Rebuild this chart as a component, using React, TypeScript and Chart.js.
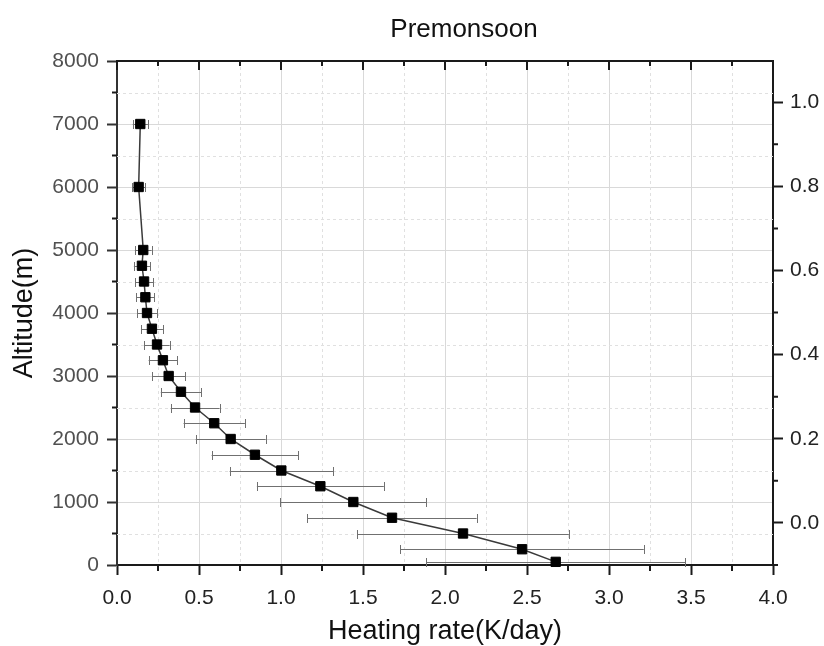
import React, { useEffect, useRef } from "react";
import { Chart, registerables } from "chart.js";

Chart.register(...registerables);

// ---- data ----
const altitudes = [50, 250, 500, 750, 1000, 1250, 1500, 1750, 2000, 2250, 2500, 2750, 3000, 3250, 3500, 3750, 4000, 4250, 4500, 4750, 5000, 6000, 7000];
const heatingRate = [2.675, 2.47, 2.11, 1.677, 1.441, 1.24, 1.002, 0.841, 0.693, 0.593, 0.476, 0.39, 0.315, 0.28, 0.244, 0.213, 0.183, 0.173, 0.165, 0.152, 0.16, 0.132, 0.142];
const heatingErr = [0.79, 0.742, 0.645, 0.516, 0.446, 0.387, 0.315, 0.264, 0.213, 0.187, 0.149, 0.123, 0.1, 0.087, 0.077, 0.067, 0.061, 0.055, 0.055, 0.049, 0.051, 0.04, 0.046];

const chartTitle = "Premonsoon";
const xAxisTitle = "Heating rate(K/day)";
const yAxisTitle = "Altitude(m)";

const xMin = 0;
const xMax = 4;
const xStep = 0.5;
const yMin = 0;
const yMax = 8000;
const yStep = 1000;
const y2Min = -0.1;
const y2Max = 1.098;
const y2Step = 0.2;

const FONT = "'Liberation Sans', Arial, Helvetica, sans-serif";

function midpoints(ticks: { value: number }[]): number[] {
  const out: number[] = [];
  for (let i = 0; i < ticks.length - 1; i++) {
    out.push((ticks[i].value + ticks[i + 1].value) / 2);
  }
  return out;
}

export default function App() {
  const ref = useRef<HTMLCanvasElement>(null);

  useEffect(() => {
    if (!ref.current) return;

    const extras = {
      id: "extras",
      beforeDatasetsDraw(chart: any) {
        const { ctx, chartArea: a, scales } = chart;
        const x = scales.x;
        const y = scales.y;
        ctx.save();
        // minor dashed grid
        ctx.strokeStyle = "#e0e0e0";
        ctx.lineWidth = 1;
        ctx.setLineDash([3, 3]);
        ctx.beginPath();
        for (const v of midpoints(x.ticks)) {
          const px = Math.round(x.getPixelForValue(v)) + 0.5;
          ctx.moveTo(px, a.top);
          ctx.lineTo(px, a.bottom);
        }
        for (const v of midpoints(y.ticks)) {
          const py = Math.round(y.getPixelForValue(v)) + 0.5;
          ctx.moveTo(a.left, py);
          ctx.lineTo(a.right, py);
        }
        ctx.stroke();
        ctx.setLineDash([]);
        // error bars
        ctx.strokeStyle = "#707070";
        ctx.lineWidth = 1;
        ctx.beginPath();
        altitudes.forEach((alt, i) => {
          const py = Math.round(y.getPixelForValue(alt)) + 0.5;
          const x1 = x.getPixelForValue(heatingRate[i] - heatingErr[i]);
          const x2 = x.getPixelForValue(heatingRate[i] + heatingErr[i]);
          ctx.moveTo(x1, py);
          ctx.lineTo(x2, py);
          ctx.moveTo(Math.round(x1) + 0.5, py - 4.5);
          ctx.lineTo(Math.round(x1) + 0.5, py + 4.5);
          ctx.moveTo(Math.round(x2) + 0.5, py - 4.5);
          ctx.lineTo(Math.round(x2) + 0.5, py + 4.5);
        });
        ctx.stroke();
        ctx.restore();
      },
      afterDraw(chart: any) {
        const { ctx, chartArea: a, scales } = chart;
        const x = scales.x;
        const y = scales.y;
        const y2 = scales.y2;
        ctx.save();
        ctx.strokeStyle = "#1a1a1a";
        // top border
        ctx.lineWidth = 2;
        ctx.beginPath();
        ctx.moveTo(a.left - 1, a.top);
        ctx.lineTo(a.right + 1, a.top);
        ctx.stroke();
        // top inward ticks
        ctx.lineWidth = 2;
        ctx.beginPath();
        for (const t of x.ticks) {
          const px = x.getPixelForValue(t.value);
          ctx.moveTo(px, a.top);
          ctx.lineTo(px, a.top + 9);
        }
        for (const v of midpoints(x.ticks)) {
          const px = x.getPixelForValue(v);
          ctx.moveTo(px, a.top);
          ctx.lineTo(px, a.top + 5);
        }
        // bottom minor ticks
        for (const v of midpoints(x.ticks)) {
          const px = x.getPixelForValue(v);
          ctx.moveTo(px, a.bottom);
          ctx.lineTo(px, a.bottom + 6);
        }
        // left minor ticks
        for (const v of midpoints(y.ticks)) {
          const py = y.getPixelForValue(v);
          ctx.moveTo(a.left, py);
          ctx.lineTo(a.left - 5, py);
        }
        // right minor ticks
        const r = y2.ticks;
        const rm = midpoints(r);
        if (r.length > 1) {
          const s = r[1].value - r[0].value;
          rm.unshift(r[0].value - s / 2);
          rm.push(r[r.length - 1].value + s / 2);
        }
        for (const v of rm) {
          const py = y2.getPixelForValue(v);
          if (py < a.top - 0.5 || py > a.bottom + 0.5) continue;
          ctx.moveTo(a.right, py);
          ctx.lineTo(a.right + 5, py);
        }
        ctx.stroke();
        // chart title
        ctx.fillStyle = "#111";
        ctx.font = `26px ${FONT}`;
        ctx.textAlign = "center";
        ctx.textBaseline = "alphabetic";
        ctx.fillText(chartTitle, (a.left + a.right) / 2 + 19, 37);
        ctx.restore();
      },
    };

    const chart = new Chart(ref.current, {
      type: "scatter",
      data: {
        datasets: [
          {
            data: altitudes.map((alt, i) => ({ x: heatingRate[i], y: alt })),
            showLine: true,
            borderColor: "#3a3a3a",
            borderWidth: 1.5,
            pointStyle: "rect",
            pointRadius: 6.6,
            pointBackgroundColor: "#000",
            pointBorderColor: "#000",
            pointBorderWidth: 1,
            clip: false as any,
          },
        ],
      },
      options: {
        animation: false,
        responsive: false,
        layout: { padding: { top: 61, left: 0, right: 0, bottom: 0 } },
        plugins: {
          legend: { display: false },
          tooltip: { enabled: false },
          title: { display: false },
        },
        scales: {
          x: {
            type: "linear",
            position: "bottom",
            min: xMin,
            max: xMax,
            ticks: {
              stepSize: xStep,
              padding: 11,
              color: "#222",
              font: { family: FONT, size: 21 },
              callback: (v: any) => Number(v).toFixed(1),
              maxRotation: 0,
            },
            grid: {
              color: "#d9d9d9",
              lineWidth: 1,
              tickLength: 10,
              tickColor: "#1a1a1a",
              tickWidth: 2,
            },
            border: { color: "#1a1a1a", width: 2 },
            title: {
              display: true,
              text: xAxisTitle,
              color: "#111",
              font: { family: FONT, size: 27, lineHeight: 1 },
              padding: { top: 0, bottom: 1 },
            },
            afterFit: (s: any) => {
              s.height = 81;
            },
          },
          y: {
            type: "linear",
            position: "left",
            min: yMin,
            max: yMax,
            ticks: {
              stepSize: yStep,
              padding: 8,
              color: "#505050",
              font: { family: FONT, size: 21 },
              callback: (v: any) => String(Math.round(Number(v))),
            },
            grid: {
              color: "#d9d9d9",
              lineWidth: 1,
              tickLength: 10,
              tickColor: "#333",
              tickWidth: 2,
            },
            border: { color: "#333", width: 2 },
            title: {
              display: true,
              text: yAxisTitle,
              color: "#111",
              font: { family: FONT, size: 27, lineHeight: 1 },
              padding: { top: 11, bottom: 0 },
            },
            afterFit: (s: any) => {
              s.width = 117;
            },
          },
          y2: {
            type: "linear",
            position: "right",
            min: y2Min,
            max: y2Max,
            ticks: {
              stepSize: y2Step,
              includeBounds: false,
              padding: 7,
              color: "#222",
              font: { family: FONT, size: 21 },
              callback: (v: any) => Number(v).toFixed(1),
            },
            grid: {
              drawOnChartArea: false,
              tickLength: 10,
              tickColor: "#1a1a1a",
              tickWidth: 2,
            },
            border: { color: "#1a1a1a", width: 2 },
            afterFit: (s: any) => {
              s.width = 51;
            },
          },
        },
      } as any,
      plugins: [extras],
    });

    return () => chart.destroy();
  }, []);

  return (
    <div style={{ position: "absolute", left: 0, top: 0, width: 824, height: 646, background: "#fff" }}>
      <canvas ref={ref} width={824} height={646} />
    </div>
  );
}
